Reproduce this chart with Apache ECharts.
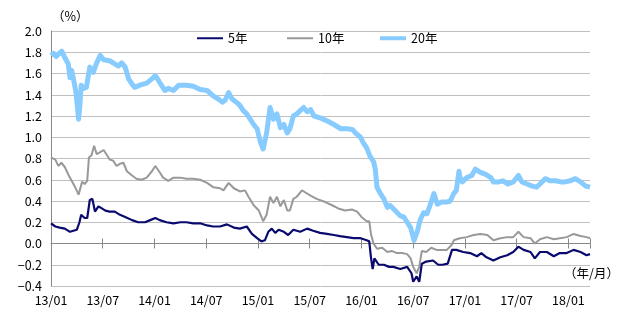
<!DOCTYPE html>
<html><head><meta charset="utf-8">
<script src="https://cdn.jsdelivr.net/npm/echarts@6/dist/echarts.min.js"></script>
<style>html,body{margin:0;padding:0;background:#fff}#c{width:630px;height:327px}</style>
</head><body><div id="c"></div>
<script>
// x = months elapsed since 2013/01
const xTickLabels = ['13/01','13/07','14/01','14/07','15/01','15/07','16/01','16/07','17/01','17/07','18/01'];
const yTicks = [-0.4,-0.2,0.0,0.2,0.4,0.6,0.8,1.0,1.2,1.4,1.6,1.8,2.0];

const t20 = [0,0.3,0.6,0.85,1.24,1.6,2.0,2.2,2.4,2.6,2.9,3.2,3.35,3.5,3.75,4.1,4.5,4.9,5.3,5.7,6.1,6.8,7.4,7.8,8.2,8.6,9.0,9.4,9.7,10.3,11.1,11.7,12.1,12.5,12.8,13.2,13.6,14.2,14.8,15.7,16.5,17.3,18.1,18.8,19.4,19.9,20.2,20.6,21.0,21.5,21.9,22.3,22.7,23.1,23.5,23.9,24.3,24.6,25.0,25.4,25.8,26.2,26.6,27.0,27.4,27.7,28.1,28.5,28.9,29.3,29.7,30.1,30.5,31.3,32.1,32.8,33.6,34.4,35.0,35.3,35.9,36.2,36.6,37.0,37.4,37.6,37.8,38.2,38.6,39.0,39.3,39.9,40.5,40.9,41.3,41.7,42.1,42.5,42.8,43.2,43.6,44.0,44.4,44.8,45.3,45.9,46.3,46.7,47.0,47.3,47.5,47.7,48.2,48.8,49.2,49.8,50.4,51.0,51.3,51.9,52.4,53.0,53.6,54.2,54.6,55.2,55.8,56.3,56.7,57.3,57.9,58.5,59.1,59.6,60.2,60.8,61.4,62.0,62.5];
const v20 = [1.77,1.79,1.76,1.78,1.81,1.75,1.69,1.56,1.63,1.55,1.42,1.17,1.30,1.49,1.46,1.47,1.66,1.61,1.70,1.77,1.73,1.72,1.69,1.67,1.70,1.66,1.55,1.50,1.47,1.49,1.51,1.55,1.58,1.53,1.49,1.44,1.46,1.44,1.49,1.49,1.48,1.45,1.44,1.39,1.36,1.33,1.35,1.42,1.36,1.33,1.30,1.25,1.22,1.17,1.12,1.08,0.95,0.89,1.04,1.28,1.17,1.22,1.09,1.12,1.04,1.08,1.20,1.22,1.25,1.28,1.24,1.26,1.20,1.18,1.15,1.12,1.08,1.08,1.07,1.04,1.00,0.95,0.90,0.82,0.77,0.70,0.53,0.47,0.42,0.34,0.36,0.31,0.26,0.25,0.20,0.15,0.03,0.12,0.22,0.29,0.28,0.37,0.47,0.37,0.39,0.39,0.40,0.47,0.50,0.68,0.60,0.58,0.62,0.64,0.70,0.67,0.65,0.62,0.58,0.58,0.59,0.56,0.58,0.64,0.58,0.56,0.54,0.53,0.56,0.61,0.59,0.59,0.58,0.58,0.59,0.61,0.58,0.54,0.53];

const t10 = [0,0.5,0.85,1.2,1.6,2.0,2.4,2.8,3.2,3.6,3.9,4.2,4.4,4.7,5.0,5.3,5.7,6.1,6.5,6.8,7.2,7.6,8.0,8.4,8.8,9.4,9.9,10.5,11.1,11.7,12.1,12.6,13.0,13.6,14.2,15.0,15.7,16.5,17.3,18.1,18.8,19.6,20.0,20.6,21.2,21.9,22.5,22.9,23.5,24.1,24.6,25.0,25.4,25.8,26.2,26.6,27.0,27.4,27.7,28.1,28.5,29.1,29.5,30.1,30.8,31.8,32.6,33.3,34.1,34.9,35.5,36.0,36.6,36.9,37.1,37.4,37.8,38.4,39.0,39.5,40.1,40.7,41.3,41.7,42.0,42.4,42.7,43.0,43.5,44.1,44.7,45.3,45.9,46.5,46.7,47.4,48.2,49.0,49.8,50.6,51.3,52.1,52.9,53.6,54.2,54.8,55.6,56.1,56.7,57.5,58.3,59.0,59.8,60.6,61.4,62.1,62.5];
const v10 = [0.81,0.79,0.73,0.76,0.72,0.65,0.59,0.53,0.46,0.58,0.56,0.59,0.81,0.83,0.92,0.84,0.86,0.88,0.83,0.79,0.78,0.73,0.75,0.76,0.68,0.64,0.61,0.60,0.62,0.68,0.73,0.67,0.62,0.59,0.62,0.62,0.61,0.61,0.60,0.57,0.53,0.52,0.50,0.57,0.52,0.49,0.50,0.44,0.36,0.31,0.21,0.27,0.44,0.38,0.44,0.35,0.41,0.31,0.31,0.42,0.44,0.50,0.48,0.45,0.42,0.39,0.36,0.33,0.31,0.32,0.30,0.25,0.21,0.21,0.09,0.00,-0.05,-0.04,-0.08,-0.07,-0.09,-0.09,-0.10,-0.14,-0.22,-0.28,-0.22,-0.07,-0.08,-0.04,-0.06,-0.06,-0.06,-0.01,0.03,0.05,0.06,0.08,0.09,0.08,0.03,0.05,0.06,0.06,0.11,0.06,0.05,0.00,0.04,0.06,0.04,0.05,0.06,0.09,0.07,0.06,0.05];

const t5 = [0,0.5,1.0,1.6,2.2,2.6,3.0,3.3,3.5,3.9,4.2,4.5,4.8,5.1,5.5,5.9,6.3,6.8,7.4,8.0,8.6,9.4,10.1,10.9,11.5,12.1,12.6,13.4,14.2,15.0,15.7,16.5,17.3,18.1,18.8,19.6,20.4,21.2,21.9,22.7,23.3,23.9,24.4,24.8,25.2,25.6,26.0,26.4,27.0,27.5,28.1,28.9,29.7,30.4,31.2,32.0,32.8,33.5,34.3,35.1,35.9,36.6,36.9,37.1,37.3,37.5,38.0,38.6,39.2,39.7,40.5,41.3,41.8,42.0,42.4,42.7,43.0,43.5,44.3,44.9,45.4,46.0,46.5,47.0,47.8,48.6,49.4,49.9,50.5,51.3,52.1,52.9,53.6,54.2,54.8,55.6,56.1,56.7,57.5,58.3,59.0,59.8,60.6,61.4,62.1,62.5];
const v5 = [0.19,0.16,0.15,0.14,0.11,0.12,0.13,0.20,0.27,0.24,0.24,0.41,0.42,0.30,0.35,0.33,0.31,0.30,0.30,0.27,0.25,0.22,0.20,0.20,0.22,0.24,0.22,0.20,0.19,0.20,0.20,0.19,0.19,0.17,0.16,0.16,0.18,0.15,0.14,0.16,0.09,0.05,0.02,0.03,0.11,0.14,0.10,0.13,0.11,0.08,0.13,0.11,0.14,0.12,0.10,0.09,0.08,0.07,0.06,0.05,0.05,0.03,0.02,-0.13,-0.24,-0.14,-0.20,-0.20,-0.22,-0.22,-0.24,-0.22,-0.28,-0.36,-0.31,-0.36,-0.19,-0.17,-0.16,-0.20,-0.20,-0.19,-0.06,-0.06,-0.08,-0.09,-0.12,-0.09,-0.13,-0.16,-0.13,-0.11,-0.08,-0.03,-0.06,-0.08,-0.14,-0.08,-0.08,-0.12,-0.09,-0.09,-0.06,-0.08,-0.11,-0.10];

const seriesNames = ['5年','10年','20年'];
const seriesColors = ['#0a0a6e','#999999','#88ccff'];
const seriesWidths = [2.2,2,5];

const zip = (t, v) => t.map((x, i) => [x, v[i]]);
const FONT = '"Noto Sans CJK JP", "Liberation Sans", sans-serif';
const xMax = 62.5;

const chart = echarts.init(document.getElementById('c'), null, {renderer: 'canvas'});
const xBase = {type: 'value', min: 0, max: xMax, interval: 6, gridIndex: 0, position: 'bottom', splitLine: {show: false}};
const legendLeft = [197, 287, 380];
const legendIconH = [2, 2, 4];
chart.setOption({
  animation: false,
  textStyle: {fontFamily: FONT},
  grid: {left: 51, right: 40, top: 31, bottom: 41, containLabel: false},
  legend: [0,1,2].map(i => ({
    show: true,
    data: [{name: seriesNames[i], icon: 'rect'}],
    left: legendLeft[i], top: 32, padding: 0,
    itemWidth: 26, itemHeight: legendIconH[i], itemGap: 0,
    textStyle: {fontSize: 12.5, color: '#000', fontFamily: FONT}
  })),
  xAxis: [
    Object.assign({}, xBase, {
      axisLine: {show: false, onZero: false},
      axisTick: {show: false},
      axisLabel: {fontSize: 12.5, color: '#000', margin: 8, fontFamily: FONT,
        formatter: v => xTickLabels[Math.round(v / 6)] || ''}
    }),
    Object.assign({}, xBase, {
      axisLine: {show: true, onZero: true, onZeroAxisIndex: 0, lineStyle: {color: '#888', width: 1}},
      axisTick: {show: true, inside: false, length: 5, lineStyle: {color: '#888'}},
      axisLabel: {show: false}
    }),
    Object.assign({}, xBase, {
      axisLine: {show: false, onZero: true, onZeroAxisIndex: 1},
      axisTick: {show: true, inside: true, length: 5, lineStyle: {color: '#888'}},
      axisLabel: {show: false}
    })
  ],
  yAxis: [{
    type: 'value', min: yTicks[0], max: yTicks[yTicks.length - 1], interval: 0.2,
    axisLine: {show: true, lineStyle: {color: '#888'}},
    axisTick: {show: false},
    splitLine: {show: true, lineStyle: {color: '#c0c0c0', width: 1}},
    axisLabel: {fontSize: 12.5, color: '#000', margin: 9, fontFamily: FONT,
      formatter: v => { const s = v.toFixed(1); return s === '-0.0' ? '0.0' : s.replace('-', '−'); }}
  }, {
    type: 'value', min: yTicks[0], max: yTicks[yTicks.length - 1], interval: 0.2,
    show: false, splitLine: {show: false}
  }],
  graphic: [
    {type: 'text', left: 52, top: 10, style: {text: '（%）', fontSize: 12.5, fill: '#000', fontFamily: FONT}},
    {type: 'text', left: 564, top: 267, style: {text: '（年/月）', fontSize: 12.5, fill: '#000', fontFamily: FONT}}
  ],
  series: [
    {name: seriesNames[2], type: 'line', data: zip(t20, v20), showSymbol: false, symbol: 'none', z: 2,
      lineStyle: {color: seriesColors[2], width: seriesWidths[2], join: 'round'}, itemStyle: {color: seriesColors[2]}},
    {name: seriesNames[1], type: 'line', data: zip(t10, v10), showSymbol: false, symbol: 'none', z: 3,
      lineStyle: {color: seriesColors[1], width: seriesWidths[1]}, itemStyle: {color: seriesColors[1]}},
    {name: seriesNames[0], type: 'line', data: zip(t5, v5), showSymbol: false, symbol: 'none', z: 4,
      lineStyle: {color: seriesColors[0], width: seriesWidths[0]}, itemStyle: {color: seriesColors[0]}}
  ]
});
</script></body></html>
